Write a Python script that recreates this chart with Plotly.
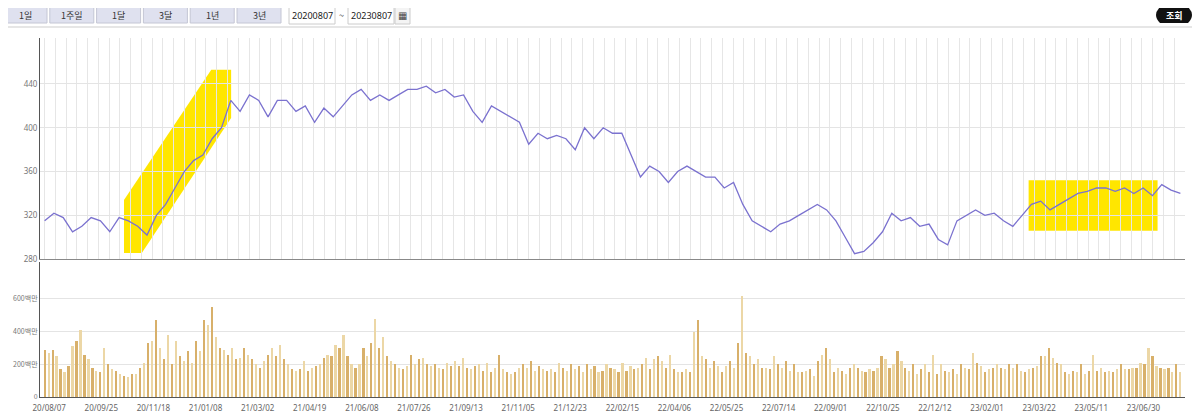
import plotly.graph_objects as go

price = [315,322,318,305,310,318,315,305,318,315,310,302,320,330,345,360,370,375,390,400,425,415,430,425,410,
         425,425,415,420,405,418,410,420,430,435,425,430,425,430,435,435,438,432,435,428,430,415,405,420,415,
         410,405,385,395,390,393,390,380,400,390,400,395,395,375,355,365,360,350,360,365,360,355,355,345,350,
         330,315,310,305,312,315,320,325,330,325,315,300,285,287,295,305,322,315,318,310,312,298,293,315,320,
         325,320,322,315,310,320,330,333,325,330,335,340,342,345,345,342,345,340,345,338,348,343,340]

volume = [290,270,290,250,170,150,190,310,340,410, 260,230,180,160,150,300,200,170,160,140,
          130,125,140,140,180,210,330,340,470,300, 230,380,200,340,250,220,280,210,340,280,
          470,440,550,370,300,290,260,300,230,240, 300,260,230,200,180,220,260,300,250,320,
          230,200,170,160,170,220,160,180,190,200, 240,260,250,320,300,380,250,200,180,200,
          300,250,330,480,300,370,250,220,200,180, 170,190,260,200,230,240,200,190,200,180,
          170,210,190,220,190,240,180,170,190,200, 160,210,150,180,260,170,150,140,150,180,
          200,180,220,160,190,170,160,170,150,210, 180,160,200,170,190,150,200,170,190,150,
          160,200,180,170,150,210,160,190,170,180, 200,240,170,230,250,220,180,260,170,150,
          150,170,150,400,470,250,230,180,220,190, 150,190,220,180,330,620,270,250,200,230,
          180,180,170,250,200,180,220,160,200,150, 150,160,170,130,220,260,300,230,150,180,
          160,140,180,200,180,160,150,170,160,180, 250,230,180,200,280,220,180,160,200,140,
          170,200,150,260,140,200,160,150,170,140, 200,180,170,270,210,190,150,170,180,200,
          180,170,200,180,200,160,150,170,180,190, 250,250,300,240,210,200,150,140,160,150,
          200,140,160,260,160,180,150,160,150,170, 200,170,170,180,180,210,200,300,250,190,
          180,170,180,150,200,150]

date_labels = ["20/08/07","20/09/25","20/11/18","21/01/08","21/03/02","21/04/19","21/06/08","21/07/26",
               "21/09/13","21/11/05","21/12/23","22/02/15","22/04/06","22/05/25","22/07/14","22/09/01",
               "22/10/25","22/12/12","23/02/01","23/03/22","23/05/11","23/06/30"]
buttons = ["1일","1주일","1달","3달","1년","3년"]
start_date, end_date = "20200807", "20230807"

NDAYS = 739
px_x = [i * NDAYS / (len(price) - 1) for i in range(len(price))]
vol_x = [i * NDAYS / (len(volume) - 1) for i in range(len(volume))]
vcols = ["#d8b06a" if i % 2 == 0 else "#ecd7a6" for i in range(len(volume))]

fig = go.Figure()
fig.add_trace(go.Scatter(x=px_x, y=price, mode="lines", line=dict(color="#7b72cf", width=1.3),
                         xaxis="x", yaxis="y", hoverinfo="skip"))
fig.add_trace(go.Bar(x=vol_x, y=volume, marker=dict(color=vcols, line_width=0), width=1.4,
                     xaxis="x2", yaxis="y2", hoverinfo="skip"))

tickvals = [3 + i * 33.9 for i in range(len(date_labels))]
fig.update_layout(
    width=1192, height=410, showlegend=False, plot_bgcolor="white", paper_bgcolor="white",
    margin=dict(l=32, r=15, t=30, b=21, autoexpand=False), bargap=0,
    xaxis=dict(domain=[0, 1], range=[-3, NDAYS + 3], showticklabels=False, dtick=7, tick0=0,
               showgrid=True, gridcolor="#e6e6e6", zeroline=False, anchor="y", automargin=False,
               showline=True, linecolor="#888", linewidth=1),
    yaxis=dict(domain=[0.384, 1], range=[280, 482], tickvals=[280, 320, 360, 400, 440], automargin=False,
               gridcolor="#e4e4e4", zeroline=False, showline=True, linecolor="#555", linewidth=1,
               tickfont=dict(size=8, color="#777", family="Noto Sans"), ticks=""),
    xaxis2=dict(domain=[0, 1], range=[-3, NDAYS + 3], tickvals=tickvals, ticktext=date_labels, automargin=False,
                showgrid=False, zeroline=False, anchor="y2", showline=True, linecolor="#555",
                ticklabelstandoff=3,
                tickfont=dict(size=8, color="#666", family="Noto Sans"), ticks=""),
    yaxis2=dict(domain=[0, 0.376], range=[0, 826], tickvals=[0, 200, 400, 600], automargin=False,
                ticktext=["0", "200백만", "400백만", "600백만"], gridcolor="#e4e4e4", zeroline=False,
                showline=True, linecolor="#555", tickfont=dict(size=7, color="#777", family="Noto Sans CJK KR"),
                ticks=""),
)

d = NDAYS / 1145
shapes = [
    dict(type="path", xref="x", yref="y", layer="below", fillcolor="#ffe600", line_width=0,
         path=f"M {80*d},334 L {80*d},285.5 L {98*d},285.5 L {188*d},409 L {188*d},453 L {168*d},453 Z"),
    dict(type="rect", xref="x", yref="y", layer="below", fillcolor="#ffe600", line_width=0,
         x0=992*d, x1=1122*d, y0=306, y1=352),
]
annotations = []
def py(y):
    return (418 - 21 - y) / 359
def pxx(x):
    return (x - 40) / 1145
shapes.append(dict(type="line", xref="paper", yref="paper", x0=pxx(0), x1=pxx(1200), y0=py(27), y1=py(27),
                   line=dict(color="#e6e6e6", width=2)))
def label(x, y, t, size=9, color="#333", fam="Noto Sans CJK KR"):
    annotations.append(dict(xref="paper", yref="paper", x=pxx(x), y=py(y), text=t, showarrow=False,
                            xanchor="center", yanchor="middle", font=dict(size=size, color=color, family=fam)))
for i, b in enumerate(buttons):
    x0 = 3 + i * 46.8
    shapes.append(dict(type="rect", xref="paper", yref="paper", x0=pxx(x0), x1=pxx(x0 + 44),
                       y0=py(23), y1=py(7), fillcolor="#dfe1ef", line=dict(color="#c4c6d4", width=1)))
    label(x0 + 22, 15, b)
for xs, t in [(289, start_date), (348, end_date)]:
    shapes.append(dict(type="rect", xref="paper", yref="paper", x0=pxx(xs), x1=pxx(xs + 46),
                       y0=py(24), y1=py(6), fillcolor="white", line=dict(color="#ccc", width=1)))
    label(xs + 23, 15, t, color="#222", fam="Noto Sans")
shapes.append(dict(type="rect", xref="paper", yref="paper", x0=pxx(395), x1=pxx(410),
                   y0=py(24), y1=py(6), fillcolor="#f4f4f4", line=dict(color="#ccc", width=1)))
label(402.5, 15, "▦", size=10, color="#444", fam="DejaVu Sans")
label(341, 15, "~")
shapes.append(dict(type="path", xref="paper", yref="paper", fillcolor="#111", line_width=0,
                   path=f"M {pxx(1160)},{py(7)} L {pxx(1188)},{py(7)} Q {pxx(1196)},{py(15)} {pxx(1188)},{py(23)} "
                        f"L {pxx(1160)},{py(23)} Q {pxx(1152)},{py(15)} {pxx(1160)},{py(7)} Z"))
label(1174, 15, "<b>조회</b>", color="white")
fig.update_layout(shapes=shapes, annotations=annotations)
fig.write_html("out.html")
